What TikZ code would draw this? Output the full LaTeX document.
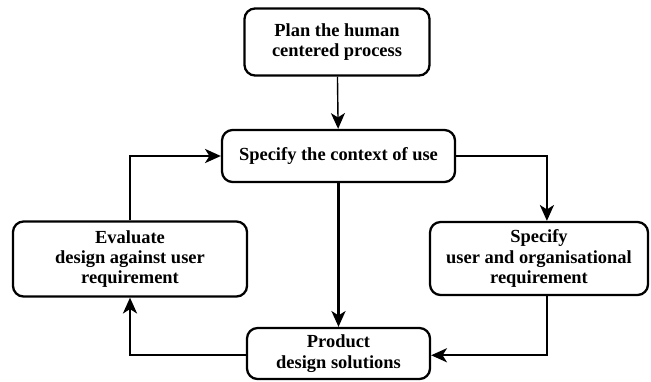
\documentclass[tikz,border=0pt]{standalone}
\usepackage{fontspec}
\setmainfont{Liberation Serif}
\usepackage{tikz}
\usetikzlibrary{positioning,arrows.meta}

\begin{document}
\begin{tikzpicture}[lnk/.style={line width=1.4pt, -{Stealth[length=9pt, width=8pt, inset=2.5pt]}}]
\tikzstyle{blk}=[draw, line width=1.3pt, rounded corners=6pt, align=center, inner sep=0pt, font=\fontsize{10.5}{11.6}\selectfont\bfseries]
\useasboundingbox (0,0) rectangle (13.02,-7.62);
\node[blk, minimum width=3.7cm, minimum height=1.34cm] (plan) at (6.74,-0.84){Plan the human\\centered process};
\node[blk, minimum width=4.66cm, minimum height=1.04cm] (ctx) at (6.77,-3.12){Specify the context of use};
\node[blk, minimum width=4.68cm, minimum height=1.5cm] (eval) at (2.6,-5.18){Evaluate\\design against user\\requirement};
\node[blk, minimum width=4.36cm, minimum height=1.46cm] (spec) at (10.78,-5.17){Specify\\user and organisational\\requirement};
\node[blk, minimum width=3.66cm, minimum height=1.02cm] (prod) at (6.77,-7.07){Product\\design solutions};
\draw[lnk, line width=0.8pt] (plan) -- (ctx);
\draw[lnk] (ctx) -- (prod);
\draw[lnk] (ctx.east) -| ([xshift=4.5pt]spec.north);
\draw[lnk] ([xshift=4.5pt]spec.south) |- ([yshift=-1pt]prod.east);
\draw[lnk] ([yshift=-1pt]prod.west) -| (eval.south);
\draw[lnk] (eval.north) |- (ctx.west);
\end{tikzpicture}
\end{document}
